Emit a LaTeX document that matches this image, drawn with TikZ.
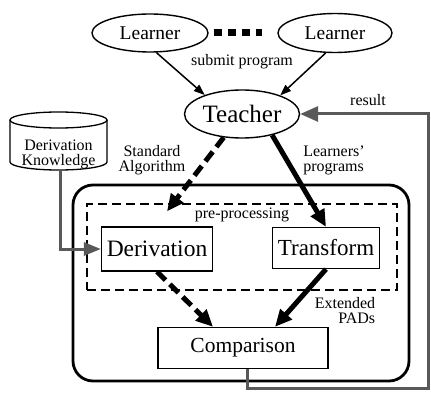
\documentclass[tikz,border=0pt]{standalone}
\usepackage{fontspec}
\setmainfont{Liberation Serif}
\usetikzlibrary{arrows.meta,shapes.geometric,calc}
\begin{document}
\begin{tikzpicture}[x=1pt,y=-1pt,
  lbl/.style={font=\fontsize{16}{15}\selectfont, inner sep=0pt, align=center},
  actor/.style={ellipse, draw, line width=1.4pt, inner sep=0pt},
  proc/.style={rectangle, draw, line width=1.3pt, inner sep=0pt, fill=white},
  thinarrow/.style={line width=1.5pt, -{Triangle[length=11pt,width=8pt]}},
  fat/.style={line width=5pt, -{Triangle[length=17pt,width=15pt]}},
  fatdash/.style={fat, dash pattern=on 12pt off 6pt},
  grayline/.style={line width=3pt, draw=black!65},
]
\useasboundingbox (0,0) rectangle (431,393);

% outer and pre-processing boxes
\node[draw, line width=2.8pt, rounded corners=20pt, minimum width=336pt, minimum height=196pt] (M) at (241,283) {};
\node[draw, line width=1.3pt, dash pattern=on 9pt off 5pt, minimum width=310pt, minimum height=86pt] (P) at (242,247) {};
\node[lbl] (pp) at (242,215) {pre-processing};

% actors
\node[actor, minimum width=116pt, minimum height=38pt, font=\fontsize{19.5}{20}\selectfont] (L1) at (150,33) {Learner};
\node[actor, minimum width=114pt, minimum height=39pt, font=\fontsize{19.5}{20}\selectfont] (L2) at (335,33) {Learner};
\node[actor, minimum width=115pt, minimum height=48pt, font=\fontsize{25}{26}\selectfont] (T) at (242,114) {Teacher};

% cylinder
\draw[line width=1.3pt] (58.5,120) ellipse [x radius=48.5pt, y radius=8pt];
\draw[line width=1.3pt] (10,120) -- (10,162) .. controls (10,166.4) and (31.7,170) .. (58.5,170)
  .. controls (85.3,170) and (107,166.4) .. (107,162) -- (107,120);
\node[lbl] (K) at (58.5,154) {Derivation\\Knowledge};
\coordinate (Kb) at (60,170);

% process boxes
\node[proc, minimum width=111pt, minimum height=44pt, font=\fontsize{23.5}{24}\selectfont] (D) at (157,249) {Derivation};
\node[proc, minimum width=107pt, minimum height=41pt, font=\fontsize{23}{24}\selectfont] (R) at (326,248) {Transform};
\node[proc, minimum width=170pt, minimum height=41pt, font=\fontsize{21.5}{22}\selectfont] (C) at (243,348) {Comparison};

% labels
\node[lbl] (sp) at (242,62) {submit program};
\node[lbl] (res) at (368,100) {result};
\node[lbl] (sa) at (152,160) {Standard\\Algorithm};
\node[lbl, align=left] (lp) at (334,160) {Learners'\\programs};
\node[lbl, align=right] (ep) at (345,311) {Extended\\PADs};

% connectors
\draw[thinarrow] (L1.288) -- (T.153);
\draw[thinarrow] (L2.245) -- (T.26);
\draw[line width=7pt, dash pattern=on 8pt off 6pt, shorten <=5pt, shorten >=15pt] (L1.east) -- (L2.west);

\draw[fatdash] (T.232) -- ($(D.north)+(10,-15)$);
\draw[fat] (T.-35) -- (R.north);
\draw[fatdash] (D.south) -- ($(C.north)+(-30,0)$);
\draw[fat] (R.south) -- ($(C.north)+(32,0)$);

\coordinate (rc) at (428,388);
\draw[grayline, -{Triangle[length=18pt,width=15pt]}] ($(C.south)+(4,0)$) |- (rc) |- (T.east);
\draw[grayline, -{Triangle[length=17pt,width=13pt]}] (Kb) |- (D.west);
\end{tikzpicture}
\end{document}
